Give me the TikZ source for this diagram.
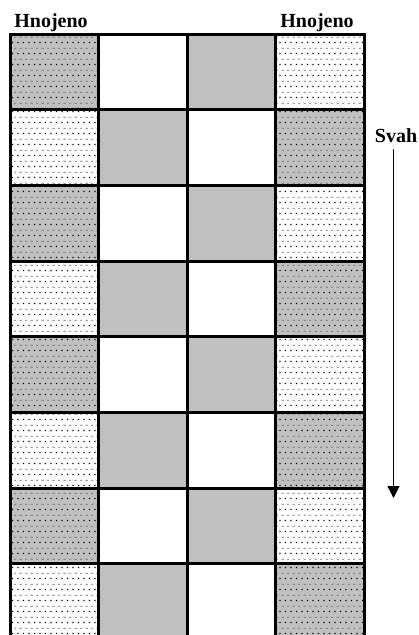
\documentclass[tikz,border=0pt]{standalone}
\usepackage{fontspec}
\setmainfont{Liberation Serif}
\usepackage{xcolor}
\usepackage{tikz}
\usetikzlibrary{arrows.meta, patterns}

\definecolor{cellgray}{RGB}{192,192,192}
\definecolor{dashgray}{RGB}{110,110,110}

% stipple: rows of black dots and grey dashes
\pgfdeclarepatterninherentlycolored{stipple}{\pgfpointorigin}{\pgfqpoint{11.4pt}{11.4pt}}{\pgfqpoint{11.4pt}{11.4pt}}{
  \pgfsetfillcolor{black}
  \pgfpathrectangle{\pgfqpoint{1pt}{2pt}}{\pgfqpoint{1.2pt}{1.2pt}}
  \pgfpathrectangle{\pgfqpoint{6.7pt}{2pt}}{\pgfqpoint{1.2pt}{1.2pt}}
  \pgfusepath{fill}
  \pgfsetfillcolor{dashgray}
  \pgfpathrectangle{\pgfqpoint{3.2pt}{7.7pt}}{\pgfqpoint{2.2pt}{0.9pt}}
  \pgfpathrectangle{\pgfqpoint{8.9pt}{7.7pt}}{\pgfqpoint{2.2pt}{0.9pt}}
  \pgfusepath{fill}
}

\begin{document}
\begin{tikzpicture}[x=1pt, y=-1pt,
      cell/.style={draw, line width=3pt, inner sep=0pt, minimum width=88.5pt, minimum height=75.7pt},
      stipgray/.style={preaction={fill=cellgray}, pattern=stipple},
      stipwhite/.style={preaction={fill=white}, pattern=stipple},
      shaded/.style={fill=cellgray},
      blank/.style={fill=white},
      lbl/.style={font=\fontsize{20}{20}\selectfont\bfseries, inner sep=0pt, anchor=base},
      slope/.style={-{Triangle[length=12pt, width=12pt]}, line width=1.3pt}
    ]
    \useasboundingbox (0,0) rectangle (418,635);
    \foreach \r in {0,...,7} {
      \ifodd\r \def\lst{stipwhite,shaded,blank,stipgray}\else\def\lst{stipgray,blank,shaded,stipwhite}\fi
      \foreach \s [count=\c from 0] in \lst {
        \node[cell, \s] (c\r\c) at (54.25+88.5*\c, 71.85+75.7*\r) {};
      }
    }
    \node[lbl] (hnl) at (51,27) {Hnojeno};
    \node[lbl] (hnr) at (317,27) {Hnojeno};
    \node[lbl] (svah) at (396,142) {Svah};
    \coordinate (stop) at (393.5,149);
    \coordinate (sbot) at (393.5,498);
    \draw[slope] (stop) -- (sbot);
  \end{tikzpicture}
\end{document}
